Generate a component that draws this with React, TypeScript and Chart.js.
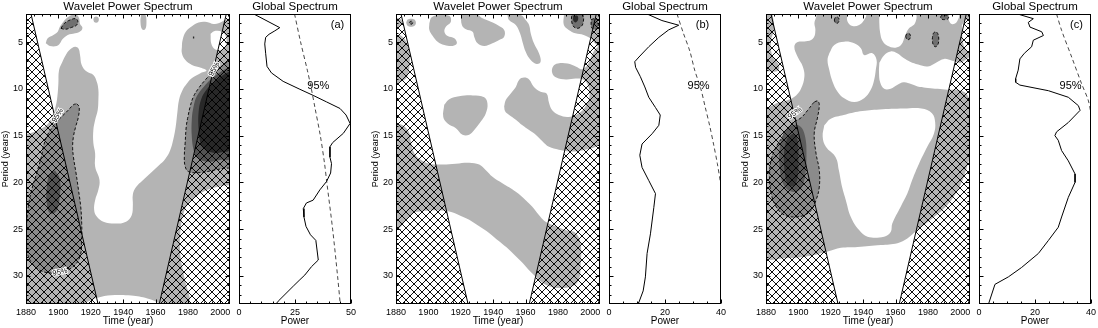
import React, { useEffect, useRef } from 'react';
import { Chart, registerables } from 'chart.js';

Chart.register(...registerables);

type P = [number, number];
type Layer = { pts: P[]; color: string; dash?: boolean; smooth?: number };
type Lbl = { x: number; y: number; text: string; rot?: number; size?: number; halo?: boolean };

const FONT = "'Liberation Sans', Arial, Helvetica, sans-serif";
Chart.defaults.font.family = FONT;
Chart.defaults.color = '#000';

// ---------- axes ----------
const yearTicks = [1880, 1900, 1920, 1940, 1960, 1980, 2000];
const periodTicks = [5, 10, 15, 20, 25, 30];
const powerTicksA = [0, 25, 50];
const powerTicksBC = [0, 20, 40];

// ---------- cone of influence ----------
const coiLeft: P[] = [[1883.1, 2], [1924.5, 33]];
const coiRight: P[] = [[2003.7, 2], [1962.3, 33]];
const hatchLeft: P[] = [[1880, 2], [1883.1, 2], [1924.5, 33], [1880, 33]];
const hatchRight: P[] = [[2003.7, 2], [2006, 2], [2006, 33], [1962.3, 33]];

// ---------- global spectra (period -> power) ----------
const gPeriodA = [2.0, 3.46, 3.8, 4.17, 4.5, 5.2, 6.2, 7.6, 8.3, 9.2, 10.05, 10.7, 11.4, 12.1, 12.8, 13.7, 14.75, 15.75, 16.2, 17.3, 18.0, 19.0, 19.9, 20.8, 21.9, 22.2, 22.8, 23.7, 24.7, 25.6, 26.2, 28.3, 29.0, 29.9, 30.4, 31.1, 32.7, 33.0];
const gPowerA = [6.6, 18.2, 16.0, 13.4, 11.9, 11.5, 11.9, 12.5, 14.5, 19.7, 27.2, 33.1, 39.1, 45.1, 47.8, 49.6, 46.6, 41.8, 40.6, 40.6, 41.3, 40.9, 39.1, 36.1, 33.1, 30.1, 28.7, 29.0, 29.9, 31.9, 34.3, 35.4, 32.4, 29.4, 27.2, 24.2, 17.5, 16.5];
const sigPeriodA = [2, 5, 8, 10, 12, 15, 18, 20, 25, 30, 33];
const sigPowerA = [24.8, 27.5, 30.5, 32.3, 33.9, 36.3, 38.2, 39.2, 41.8, 44.0, 45.2];

const gPeriodB = [2.0, 2.7, 3.2, 3.7, 4.5, 5.5, 6.6, 7.1, 7.7, 8.7, 9.8, 10.9, 12.0, 12.8, 13.9, 14.8, 15.9, 17.1, 18.4, 19.8, 21.2, 22.7, 25.5, 27.6, 30.1, 31.6, 32.8, 33.0];
const gPowerB = [13.6, 18.9, 24.9, 21.3, 17.8, 14.2, 10.7, 9.2, 9.5, 11.2, 12.8, 14.2, 16.6, 18.3, 17.8, 15.4, 11.8, 11.0, 11.8, 14.2, 16.6, 16.0, 14.8, 13.6, 13.0, 12.2, 10.7, 10.4];
const sigPeriodB = [2, 4, 6, 8, 10, 12, 14, 16, 18, 20, 21.3];
const sigPowerB = [24.3, 26.5, 28.9, 30.6, 32.8, 34.4, 36.0, 37.4, 38.7, 39.8, 40.4];

const gPeriodC = [2.0, 2.5, 2.9, 3.4, 3.9, 4.3, 4.8, 5.5, 6.2, 6.8, 8.0, 8.9, 9.3, 9.6, 10.2, 10.9, 11.8, 12.3, 13.6, 14.6, 15.0, 15.5, 16.6, 17.7, 19.1, 20.0, 21.6, 23.7, 24.8, 26.2, 27.6, 29.1, 30.1, 30.9, 33.0];
const gPowerC = [13.8, 19.4, 17.6, 18.2, 22.4, 23.0, 19.4, 18.8, 16.2, 14.6, 14.0, 13.1, 13.1, 14.6, 24.8, 31.9, 35.5, 36.1, 31.9, 27.7, 27.1, 28.3, 29.5, 31.9, 34.3, 34.3, 31.9, 29.5, 28.3, 24.8, 21.2, 15.2, 10.5, 5.7, 3.4];
const sigPeriodC = [2, 3.75, 6.6, 9.5, 11.2, 12.5, 13.9];
const sigPowerC = [27.7, 29.5, 33.1, 36.7, 39.0, 39.9, 40.5];

// ---------- panel (a) wavelet contours (year, period) ----------
const aGreyMain: P[] = [[1880, 14.83], [1883.5, 14.7], [1887.6, 14.4], [1892.8, 13.86], [1896.3, 12.97], [1898.3, 11.9], [1899.4, 10.8], [1900, 9.4], [1900.4, 8.0], [1902.5, 7.1], [1904.5, 6.4], [1907.2, 5.8], [1910.3, 5.5], [1912.4, 5.7], [1913.4, 6.4], [1914.4, 7.45], [1917.5, 8.16], [1921.6, 8.52], [1923.7, 9.23], [1924.7, 10.1], [1924.7, 11.2], [1924.3, 12.26], [1922.7, 13.33], [1921.6, 14.4], [1921.6, 15.8], [1922.7, 16.9], [1922.7, 18.3], [1925.4, 19.74], [1924.7, 20.8], [1922.7, 21.9], [1922.1, 22.95], [1923.7, 23.66], [1927.8, 24.2], [1935, 24.4], [1941.8, 24.2], [1945.3, 23.5], [1946, 22.4], [1946, 21.3], [1948, 20.5], [1952, 19.8], [1957, 19.0], [1962, 18.2], [1966, 17.5], [1969, 16.6], [1971, 15.4], [1972.5, 14], [1973.5, 12.5], [1974.5, 11.2], [1976.5, 10.2], [1979.5, 9.4], [1983, 8.8], [1988, 8.3], [1991.5, 8.05], [1988, 7.75], [1982.5, 7.45], [1978.3, 6.9], [1976.3, 6.2], [1976.3, 5.5], [1976.7, 4.8], [1978.7, 3.9], [1982.5, 3.3], [1986.6, 2.9], [1991.7, 2.85], [1995.9, 3.07], [1998.9, 3.0], [2003.1, 2.64], [2006, 2.57], [2006, 33], [1880, 33]];
const aWhiteLowerRight: P[] = [[2006, 20.3], [2000, 20.4], [1992, 20.8], [1986, 21.4], [1980, 22.3], [1977, 23.5], [1975.5, 25], [1975, 26.5], [1975.5, 28], [1977, 29.5], [1979, 31], [1981, 32.2], [1982, 33], [2006, 33]];
const aWhiteBottomArc: P[] = [[1915.5, 33], [1920, 32.6], [1926, 32.25], [1935, 32.05], [1945, 32.1], [1955, 32.4], [1961, 32.8], [1962.5, 33]];
const aWhiteNotch: P[] = [[1994, 4.1], [1997, 3.8], [2001, 3.9], [2003.5, 4.4], [2003.5, 5.3], [2001, 5.8], [1997, 5.8], [1994.5, 5.2]];
const aBlobTL: P[] = [[1892.2, 5.14], [1893.4, 4.6], [1896.9, 4.24], [1899.6, 3.89], [1901, 3.35], [1903.1, 2.82], [1905.8, 2.36], [1908.7, 2.07], [1911.3, 2.07], [1912.8, 2.46], [1913.4, 3.07], [1914.8, 3.43], [1914, 3.78], [1910.3, 4.07], [1905.8, 4.24], [1902.5, 4.71], [1901, 5.14], [1899, 5.42], [1894.8, 5.42]];
const aBlobTLDark: P[] = [[1901.6, 3.53], [1903.7, 3.0], [1907.2, 2.64], [1910.7, 2.5], [1912, 2.78], [1911.3, 3.18], [1908.2, 3.43], [1904.1, 3.64]];
const aBlobSmall: P[] = [[1921.6, 2.6], [1922.1, 2.35], [1923.3, 2.27], [1924.5, 2.35], [1925, 2.6], [1924.5, 2.85], [1923.3, 2.93], [1922.1, 2.85]];
const aSpike: P[] = [[1951.1, 2.07], [1953.6, 2.07], [1954.4, 2.82], [1953.6, 3.64], [1951.7, 3.64], [1950.7, 2.82]];
const aDot: P[] = [[1983.1, 4.4], [1983.9, 4.4], [1983.9, 4.62], [1983.1, 4.62]];
const aMedLeft: P[] = [[1911.3, 11.6], [1912.8, 11.9], [1912.4, 12.97], [1910.7, 14.04], [1909.3, 15.1], [1908.8, 16.2], [1909.3, 17.3], [1910.9, 19.0], [1912.4, 20.8], [1913.8, 22.6], [1914.4, 24.4], [1914.4, 26.2], [1913.4, 27.9], [1909.3, 29.0], [1903.1, 29.5], [1895.9, 29.7], [1888.7, 29.4], [1883.5, 28.6], [1880.8, 27.6], [1880.4, 26.9], [1880.4, 24.7], [1881.4, 22.6], [1883.5, 20.8], [1886.6, 19.0], [1889.5, 17.25], [1890.7, 16.2], [1892.8, 15.1], [1895.9, 14.2], [1899, 13.5], [1902.1, 12.97], [1906.2, 12.26], [1909.3, 11.7]];
const aDarkLeft: P[] = [[1897.9, 18.7], [1901, 19.7], [1900.6, 21.9], [1898.6, 23.1], [1894.8, 23.3], [1892.8, 22.2], [1892.8, 20.5], [1894.4, 19.2]];
const aMedRight: P[] = [[2006, 6.7], [2003.1, 7.3], [1998.9, 7.8], [1994.8, 8.34], [1990.7, 9.05], [1986.6, 9.94], [1983.5, 10.8], [1981.4, 11.9], [1980, 13], [1979, 14], [1978.3, 15.8], [1977.8, 17.2], [1978.3, 18.3], [1980.4, 18.85], [1987.6, 18.96], [1995.9, 18.7], [2002, 18.5], [2006, 18.3]];
const aDarkRight: P[] = [[2006, 7.6], [2001, 8.1], [1994.8, 8.9], [1989.7, 9.8], [1985.5, 10.8], [1983.5, 11.9], [1982.4, 13.3], [1982.4, 15.1], [1983.5, 16.5], [1985.5, 17.3], [1991.7, 17.8], [1999.9, 17.6], [2006, 17.4]];
const aDarkestRight: P[] = [[2006, 8.16], [2002, 8.5], [1996.9, 9.2], [1991.7, 10.05], [1988.2, 11.1], [1986.6, 12.5], [1986.6, 14.3], [1987.6, 15.7], [1990, 16.4], [1995, 16.8], [2000, 16.8], [2006, 16.4]];

// ---------- panel (b) ----------
const bCorner: P[] = [[1880, 2.4], [1882.5, 2.5], [1884, 2.9], [1882.5, 3.3], [1880, 3.4]];
const bBlobTL: P[] = [[1886.3, 2.93], [1887.2, 2.6], [1889.3, 2.5], [1891.4, 2.6], [1892.3, 2.93], [1891.4, 3.26], [1889.3, 3.36], [1887.2, 3.26]];
const bBlobTLRing: P[] = [[1888.2, 2.93], [1889.3, 2.75], [1890.4, 2.93], [1889.3, 3.1]];
const bLeftStrip: P[] = [[1880, 4.24], [1883.2, 4.32], [1886.3, 4.96], [1888.3, 6.2], [1888.3, 7.63], [1886.9, 8.7], [1884.2, 9.13], [1880, 9.34]];
const bBlobA: P[] = [[1900.6, 3.0], [1902, 2.36], [1906.8, 2.1], [1912.9, 2.2], [1913.9, 2.82], [1910.9, 3.35], [1909.9, 3.89], [1911.9, 4.35], [1916, 4.6], [1917.6, 5.14], [1915, 5.42], [1909.9, 5.31], [1905.7, 4.96], [1902.7, 4.35], [1900.6, 3.71]];
const bBlobB: P[] = [[1920.1, 2.1], [1930.4, 2.1], [1933.4, 2.46], [1938.6, 2.82], [1942.7, 3.18], [1946.8, 3.71], [1946.8, 4.42], [1943.7, 4.78], [1939.6, 5.14], [1934.5, 5.42], [1930.4, 5.14], [1928.3, 4.42], [1927.3, 3.89], [1923.2, 3.64], [1920.7, 3.18]];
const bBlobC: P[] = [[1948.8, 2.1], [1957, 2.1], [1960.1, 2.64], [1962.2, 3.18], [1963.2, 4.07], [1965.2, 5.14], [1968.3, 6.2], [1969.3, 7.1], [1966.9, 7.34], [1963.2, 6.92], [1960.1, 6.03], [1958.1, 4.96], [1956.6, 4.07], [1954, 3.18], [1949.8, 2.64]];
const bBlobE: P[] = [[1983.7, 2.1], [2006, 2.1], [2006, 5.6], [2003, 5.14], [2000, 4.6], [1995.9, 4.24], [1990.8, 4.07], [1986.7, 3.71], [1983.7, 3.18]];
const bSpotMed1: P[] = [[1988.5, 2.05], [1995, 2.05], [1995.5, 3], [1993, 3.5], [1990, 3.4], [1988.5, 2.8]];
const bSpotDark1: P[] = [[1989.5, 2.2], [1992, 2.2], [1992.5, 2.6], [1991, 2.9], [1989.5, 2.7]];
const bSpotMed2: P[] = [[2000.5, 2.6], [2003.5, 2.5], [2005, 3], [2004, 3.6], [2001, 3.5]];
const bRight: P[] = [[1946.8, 11.9], [1947.8, 11.2], [1950.9, 10.5], [1954, 9.8], [1956, 9.05], [1959.1, 8.8], [1962.2, 9.0], [1965.2, 9.8], [1969.3, 10.3], [1973, 10.5], [1974.5, 11.5], [1976.5, 12.3], [1980.6, 12.8], [1986.8, 13], [1993, 12.6], [1997, 11.9], [1999.5, 10.8], [1998.5, 9.6], [1995.5, 9.0], [1991, 8.9], [1985, 9.0], [1979, 8.8], [1976.5, 8.3], [1977, 7.6], [1980, 7.3], [1986, 7.3], [1991, 7.6], [1995, 7.9], [1998.5, 7.4], [2001, 6.4], [2003.5, 5.7], [2006, 5.5], [2006, 15.8], [2003.6, 16.2], [1997, 16.5], [1988.8, 16.7], [1980.6, 16.5], [1974.5, 16.2], [1970.4, 15.6], [1966.3, 14.9], [1962.2, 14.4], [1958.1, 13.9], [1954, 13.3], [1949.9, 12.8], [1947.4, 12.4]];
const bMid: P[] = [[1909.8, 11.7], [1912.9, 11.1], [1919, 10.8], [1927.3, 10.7], [1934.5, 10.9], [1936.5, 11.6], [1935.5, 12.6], [1932.4, 13.5], [1928.3, 14.4], [1925.2, 14.9], [1921.1, 14.9], [1917, 14.2], [1911.9, 13.7], [1909.2, 13.0]];
const bBand: P[] = [[1880, 13.7], [1884.2, 13.9], [1888.3, 14.75], [1889.3, 15.8], [1891.4, 16.9], [1895.5, 17.6], [1900.6, 18], [1908.8, 18.1], [1917, 18], [1925.2, 17.9], [1931.4, 18.1], [1935.5, 18.7], [1939.6, 19.4], [1945.7, 20.1], [1954, 21], [1960.1, 21.9], [1964.2, 22.6], [1969.3, 23.7], [1972.4, 24.2], [1978.6, 24.7], [1984.7, 25.1], [1990.9, 25.4], [1994, 26.5], [1994, 29], [1992.9, 30.4], [1988.8, 31.1], [1980.6, 31.3], [1974.5, 31.1], [1969.3, 30.6], [1966.3, 30.1], [1962.2, 29.4], [1958.1, 28.6], [1954, 27.9], [1949.9, 27.2], [1943.7, 26.3], [1937.5, 25.4], [1931.4, 24.7], [1925.2, 24], [1919.1, 23.5], [1912.9, 23.1], [1906.8, 23], [1900.6, 23], [1894.5, 23.1], [1890.4, 23.3], [1886.3, 24], [1883.2, 24.7], [1880, 25.1]];

// ---------- panel (c) ----------
const cBase: P[] = [[1880, 2], [2006, 2], [2006, 16.9], [2004.2, 18.3], [2001.1, 19.9], [1996, 21.5], [1989.9, 22.8], [1981.7, 24], [1973.5, 25.1], [1967.3, 26], [1961.2, 26.5], [1950.9, 26.7], [1936.5, 26.9], [1926.3, 27], [1918, 27.4], [1905.7, 27.9], [1891.4, 28.1], [1880, 27.9]];
const cW1: P[] = [[1884, 2], [1910.5, 2], [1909.9, 3.0], [1910.5, 3.7], [1909.5, 4.5], [1905.7, 4.9], [1899.6, 5.0], [1897.5, 5.5], [1899.6, 6.6], [1902.7, 7.6], [1903.7, 8.7], [1901.6, 10], [1898.6, 10.7], [1893.4, 11.2], [1887.3, 11.5], [1880, 11.9], [1880, 8.3], [1887, 8.1], [1888, 7.5], [1884, 6.5], [1883, 5], [1885, 3.5]];
const cW2: P[] = [[1919.1, 6.2], [1922.2, 5.31], [1928.3, 4.96], [1934.5, 5.14], [1938.6, 5.67], [1940.6, 6.38], [1945.7, 6.2], [1948.3, 6.92], [1947.8, 7.98], [1946.8, 9.05], [1944.7, 10.1], [1940.6, 11.0], [1934.5, 11.4], [1928.3, 11.0], [1924.2, 10.3], [1921.1, 9.23], [1919.1, 7.98], [1918, 6.92]];
const cW3: P[] = [[1950, 7.2], [1953, 6.4], [1957, 6.0], [1961, 6.2], [1965, 6.7], [1969, 7.1], [1974, 7.4], [1980, 7.6], [1985, 7.2], [1990, 6.8], [1995, 7.0], [2000, 7.2], [2004, 6.8], [2006, 6.6], [2006, 11.0], [2003, 10.4], [1998, 10.1], [1992, 10.1], [1986, 10.0], [1980, 9.9], [1975, 9.8], [1970, 9.5], [1965, 9.3], [1961, 9.6], [1957, 10.0], [1953, 10.0], [1950.5, 9.3], [1949.8, 8.2]];
const cW4: P[] = [[1930, 2], [1941.6, 2], [1940.6, 2.64], [1937.5, 3.18], [1933.4, 3.29], [1930.4, 2.82]];
const cW5: P[] = [[1950, 2], [1972, 2], [1972, 3.0], [1968, 3.6], [1966, 4.3], [1963.5, 5.3], [1960, 5.6], [1955, 5.4], [1952, 4.9], [1950.5, 4.0], [1950, 3]];
const cW6: P[] = [[2001, 3.2], [2003, 2.7], [2006, 2.6], [2006, 6.0], [2003, 5.7], [2001.5, 4.8]];
const cW8: P[] = [[1993, 2], [1999, 2], [1998, 2.8], [1995, 3.1], [1993, 2.7]];
const cTooth: P[] = [[1916, 13.9], [1915, 15.1], [1917, 16.2], [1923, 17.3], [1925, 18.7], [1927, 20.5], [1929.3, 21.9], [1932.4, 23.7], [1937.5, 25.1], [1942.7, 25.8], [1952.9, 25.8], [1957, 25.3], [1958, 24.4], [1963.2, 22.6], [1967.3, 21.2], [1970.4, 19.7], [1974.5, 18], [1979.6, 16.2], [1983.7, 14.8], [1984.5, 13.6], [1982.5, 12.6], [1976, 12.1], [1965, 12.1], [1950, 12.2], [1938, 12.4], [1928, 12.8], [1920, 13.2]];
const cMedLeft: P[] = [[1909.9, 11.4], [1911.9, 11.3], [1912.9, 11.7], [1911.9, 13], [1909.8, 14.75], [1910.9, 16.9], [1912.9, 18.7], [1912.9, 20.5], [1910.9, 21.9], [1907.8, 23], [1903.7, 23.5], [1898.6, 23.7], [1891.4, 23.5], [1886.3, 22.6], [1883.2, 21.2], [1882.2, 19.4], [1883.2, 17.6], [1886.3, 16.2], [1890.4, 15.1], [1894.5, 14.0], [1897.5, 13.5], [1901.6, 13.1], [1905.7, 12.3], [1908.8, 11.6]];
const cDark: P[] = [[1891, 14.6], [1896, 13.9], [1901, 14.0], [1904, 15], [1905, 17], [1904, 19.5], [1901, 20.8], [1896, 21], [1891, 20.3], [1888.5, 18.5], [1888.5, 16.3]];
const cDarkest: P[] = [[1893, 15.3], [1897, 14.8], [1899.5, 15.5], [1900, 17.5], [1899.5, 19.5], [1897, 20.4], [1893.5, 20.2], [1891.5, 18.8], [1891.3, 16.5]];
const cSpot1: P[] = [[1922.2, 2.65], [1922.7, 2.4], [1923.7, 2.3], [1924.7, 2.4], [1925.2, 2.65], [1924.7, 2.9], [1923.7, 3.0], [1922.7, 2.9]];
const cSpot2: P[] = [[1966.3, 4.4], [1966.8, 4.15], [1967.8, 4.05], [1968.8, 4.15], [1969.3, 4.4], [1968.8, 4.65], [1967.8, 4.75], [1966.8, 4.65]];
const cSpot3: P[] = [[1982.7, 4.7], [1983.3, 4.1], [1984.7, 3.9], [1986.1, 4.1], [1986.7, 4.7], [1986.1, 5.3], [1984.7, 5.5], [1983.3, 5.3]];
const cSpot4: P[] = [[1987.8, 2.35], [1988.5, 2.15], [1990.3, 2.1], [1992.1, 2.15], [1992.8, 2.35], [1992.1, 2.55], [1990.3, 2.6], [1988.5, 2.55]];

// ---------- colours ----------
const LIGHT = '#b4b4b4';
const MED = '#8b8b8b';
const MED2 = '#707070';
const DARK = '#535353';
const DARKEST = '#282828';
const WHITE = '#ffffff';

const layersA: Layer[] = [
  { pts: aGreyMain, color: LIGHT },
  { pts: aWhiteLowerRight, color: WHITE },
  { pts: aWhiteBottomArc, color: WHITE },
  { pts: aWhiteNotch, color: WHITE },
  { pts: aBlobTL, color: LIGHT },
  { pts: aBlobSmall, color: LIGHT },
  { pts: aSpike, color: LIGHT },
  { pts: aBlobTLDark, color: MED2, dash: true },
  { pts: aDot, color: DARKEST, smooth: 0 },
  { pts: aMedLeft, color: MED, dash: true },
  { pts: aDarkLeft, color: DARK },
  { pts: aMedRight, color: MED, dash: true },
  { pts: aDarkRight, color: DARK },
  { pts: aDarkestRight, color: DARKEST },
];
const layersB: Layer[] = [
  { pts: bCorner, color: LIGHT },
  { pts: bBlobTL, color: LIGHT },
  { pts: bLeftStrip, color: LIGHT },
  { pts: bBlobA, color: LIGHT },
  { pts: bBlobB, color: LIGHT },
  { pts: bBlobC, color: LIGHT },
  { pts: bBlobE, color: LIGHT },
  { pts: bRight, color: LIGHT },
  { pts: bMid, color: LIGHT },
  { pts: bBand, color: LIGHT },
  { pts: bBlobTLRing, color: MED2, dash: true },
  { pts: bSpotMed1, color: MED2, dash: true },
  { pts: bSpotDark1, color: DARKEST },
  { pts: bSpotMed2, color: MED2, dash: true },
];
const layersC: Layer[] = [
  { pts: cBase, color: LIGHT },
  { pts: cW1, color: WHITE },
  { pts: cW2, color: WHITE },
  { pts: cW3, color: WHITE },
  { pts: cW4, color: WHITE },
  { pts: cW5, color: WHITE },
  { pts: cW6, color: WHITE },
  { pts: cW8, color: WHITE },
  { pts: cTooth, color: WHITE },
  { pts: cMedLeft, color: MED, dash: true },
  { pts: cDark, color: '#5c5c5c' },
  { pts: cDarkest, color: '#383838' },
  { pts: cSpot1, color: MED2, dash: true },
  { pts: cSpot2, color: MED2, dash: true },
  { pts: cSpot3, color: MED2, dash: true },
  { pts: cSpot4, color: MED2, dash: true },
];

const labelsA: Lbl[] = [
  { x: 1899.6, y: 12.85, text: '95%', rot: -58, size: 7.5, halo: true },
  { x: 1996.3, y: 7.9, text: '95%', rot: -62, size: 7.5, halo: true },
  { x: 1901, y: 29.6, text: '95%', rot: -12, size: 7.5, halo: true },
];
const labelsB: Lbl[] = [];
const labelsC: Lbl[] = [{ x: 1897.8, y: 12.6, text: '95%', rot: -35, size: 7.5, halo: true }];

// ---------- plugins ----------
const framePlugin = {
  id: 'frame',
  afterDatasetsDraw(chart: any, _args: any, o: any) {
    const { ctx, chartArea: a } = chart;
    const xs = chart.scales.x;
    const ys = chart.scales.y;
    const L = Math.round(a.left) + 0.5;
    const R = Math.round(a.right) - 0.5;
    const T = Math.round(a.top) + 0.5;
    const B = Math.round(a.bottom) - 0.5;
    ctx.save();
    ctx.strokeStyle = '#000';
    ctx.lineWidth = 1;
    ctx.strokeRect(L, T, R - L, B - T);
    ctx.beginPath();
    for (let v = o.xFrom; v <= o.xTo + 1e-9; v += o.xStep) {
      const px = Math.round(xs.getPixelForValue(v)) + 0.5;
      const len = o.xMajor.includes(v) ? 4 : 2;
      ctx.moveTo(px, B);
      ctx.lineTo(px, B - len);
      if (o.mirror) {
        ctx.moveTo(px, T);
        ctx.lineTo(px, T + len);
      }
    }
    for (let v = o.yFrom; v <= o.yTo + 1e-9; v += o.yStep) {
      const py = Math.round(ys.getPixelForValue(v)) + 0.5;
      const len = o.yMajor.includes(v) ? 4 : 2;
      ctx.moveTo(L, py);
      ctx.lineTo(L + len, py);
      if (o.mirror) {
        ctx.moveTo(R, py);
        ctx.lineTo(R - len, py);
      }
    }
    ctx.stroke();
    ctx.restore();
  },
};

const textPlugin = {
  id: 'texts',
  afterDatasetsDraw(chart: any, _args: any, o: any) {
    const { ctx } = chart;
    const xs = chart.scales.x;
    const ys = chart.scales.y;
    ctx.save();
    (o.items || []).forEach((l: Lbl) => {
      const px = xs.getPixelForValue(l.x);
      const py = ys.getPixelForValue(l.y);
      ctx.save();
      ctx.translate(px, py);
      ctx.rotate(((l.rot || 0) * Math.PI) / 180);
      ctx.font = `${l.size || 11}px ${FONT}`;
      ctx.textAlign = 'center';
      ctx.textBaseline = 'middle';
      if (l.halo) {
        ctx.strokeStyle = '#fff';
        ctx.lineWidth = 2;
        ctx.strokeText(l.text, 0, 0);
      }
      ctx.fillStyle = '#000';
      ctx.fillText(l.text, 0, 0);
      ctx.restore();
    });
    ctx.restore();
  },
};

const toXY = (pts: P[]) => pts.map(([x, y]) => ({ x, y }));
const plainLabel = (v: any) => String(v);

function makeHatch(): CanvasPattern | string {
  const c = document.createElement('canvas');
  c.width = 8;
  c.height = 8;
  const g = c.getContext('2d');
  if (!g) return 'rgba(0,0,0,0)';
  g.strokeStyle = '#000';
  g.lineWidth = 0.95;
  g.beginPath();
  g.moveTo(-1, -1);
  g.lineTo(9, 9);
  g.moveTo(9, -1);
  g.lineTo(-1, 9);
  g.stroke();
  return g.createPattern(c, 'repeat') || 'rgba(0,0,0,0)';
}

const tickFont = { size: 9 };

function waveConfig(layers: Layer[], labels: Lbl[], hatch: any): any {
  const ds: any[] = layers.map((l) => ({
    data: toXY([...l.pts, l.pts[0]]),
    showLine: true,
    fill: 'shape',
    backgroundColor: l.color,
    borderColor: l.dash ? '#000' : 'rgba(0,0,0,0)',
    borderWidth: l.dash ? 0.9 : 0,
    borderDash: l.dash ? [3, 2] : [],
    tension: l.smooth ?? 0.4,
    pointRadius: 0,
    pointHoverRadius: 0,
  }));
  [hatchLeft, hatchRight].forEach((h) =>
    ds.push({
      data: toXY([...h, h[0]]),
      showLine: true,
      fill: 'shape',
      backgroundColor: hatch,
      borderColor: 'rgba(0,0,0,0)',
      borderWidth: 0,
      tension: 0,
      pointRadius: 0,
    })
  );
  [coiLeft, coiRight].forEach((c) =>
    ds.push({
      data: toXY(c),
      showLine: true,
      fill: false,
      borderColor: '#000',
      borderWidth: 1,
      tension: 0,
      pointRadius: 0,
    })
  );
  ds.forEach((d, i) => (d.order = ds.length - i));
  return {
    type: 'scatter',
    data: { datasets: ds },
    options: {
      responsive: false,
      animation: false,
      devicePixelRatio: 1,
      events: [],
      layout: { padding: { top: 0, right: 4, left: 0, bottom: 0 } },
      plugins: {
        legend: { display: false },
        tooltip: { enabled: false },
        title: {
          display: true,
          text: 'Wavelet Power Spectrum',
          fullSize: false,
          color: '#000',
          font: { size: 11.5, weight: 'normal', lineHeight: 1.13 },
          padding: { top: 0, bottom: 1 },
        },
        frame: { xFrom: 1880, xTo: 2005, xStep: 5, xMajor: yearTicks, yFrom: 3, yTo: 32, yStep: 1, yMajor: periodTicks, mirror: true },
        texts: { items: labels },
      },
      scales: {
        x: {
          type: 'linear',
          min: 1880,
          max: 2006,
          afterBuildTicks: (s: any) => { s.ticks = yearTicks.map((v) => ({ value: v })); },
          afterFit: (s: any) => { s.height = 24; },
          grid: { display: false, drawTicks: false },
          border: { display: false },
          ticks: { font: tickFont, color: '#000', padding: 3, maxRotation: 0, autoSkip: false, callback: plainLabel },
          title: { display: true, text: 'Time (year)', color: '#000', font: { size: 10 }, padding: { top: 0, bottom: 1 } },
        },
        y: {
          type: 'linear',
          min: 2,
          max: 33,
          reverse: true,
          afterBuildTicks: (s: any) => { s.ticks = periodTicks.map((v) => ({ value: v })); },
          afterFit: (s: any) => { s.width = 26; },
          grid: { display: false, drawTicks: false },
          border: { display: false },
          ticks: { font: tickFont, color: '#000', padding: 3, autoSkip: false, callback: plainLabel },
          title: { display: true, text: 'Period (years)', color: '#000', font: { size: 9 }, padding: { top: 0.5, bottom: 0 } },
        },
      },
    },
    plugins: [framePlugin, textPlugin],
  };
}

function globalConfig(per: number[], pow: number[], sigPer: number[], sigPow: number[], max: number, ticks: number[], labels: Lbl[]): any {
  return {
    type: 'scatter',
    data: {
      datasets: [
        {
          data: per.map((p, i) => ({ x: pow[i], y: p })),
          showLine: true,
          fill: false,
          borderColor: '#000',
          borderWidth: 1,
          tension: 0,
          pointRadius: 0,
        },
        {
          data: sigPer.map((p, i) => ({ x: sigPow[i], y: p })),
          showLine: true,
          fill: false,
          borderColor: '#333',
          borderWidth: 0.9,
          borderDash: [4, 3],
          tension: 0.3,
          pointRadius: 0,
        },
      ],
    },
    options: {
      responsive: false,
      animation: false,
      devicePixelRatio: 1,
      events: [],
      layout: { padding: { top: 0, right: 14, left: 10, bottom: 0 } },
      plugins: {
        legend: { display: false },
        tooltip: { enabled: false },
        title: {
          display: true,
          text: 'Global Spectrum',
          fullSize: false,
          color: '#000',
          font: { size: 11.5, weight: 'normal', lineHeight: 1.13 },
          padding: { top: 0, bottom: 1 },
        },
        frame: { xFrom: 0, xTo: max, xStep: 5, xMajor: ticks, yFrom: 3, yTo: 32, yStep: 1, yMajor: periodTicks, mirror: false },
        texts: { items: labels },
      },
      scales: {
        x: {
          type: 'linear',
          min: 0,
          max,
          afterBuildTicks: (s: any) => { s.ticks = ticks.map((v) => ({ value: v })); },
          afterFit: (s: any) => { s.height = 24; },
          grid: { display: false, drawTicks: false },
          border: { display: false },
          ticks: { font: tickFont, color: '#000', padding: 3, maxRotation: 0, autoSkip: false, callback: plainLabel },
          title: { display: true, text: 'Power', color: '#000', font: { size: 10 }, padding: { top: 0, bottom: 1 } },
        },
        y: {
          type: 'linear',
          min: 2,
          max: 33,
          reverse: true,
          display: false,
        },
      },
    },
    plugins: [framePlugin, textPlugin],
  };
}

function ChartBox({ left, width, build }: { left: number; width: number; build: (h: any) => any }) {
  const ref = useRef<HTMLCanvasElement | null>(null);
  useEffect(() => {
    if (!ref.current) return;
    const chart = new Chart(ref.current, build(makeHatch()));
    return () => chart.destroy();
  }, []);
  return (
    <canvas
      ref={ref}
      width={width}
      height={328}
      style={{ position: 'absolute', left, top: 0, width, height: 328 }}
    />
  );
}

export default function App() {
  return (
    <div style={{ position: 'absolute', left: 0, top: 0, width: 1098, height: 328, overflow: 'hidden', background: '#fff' }}>
      <ChartBox left={0} width={234} build={(h) => waveConfig(layersA, labelsA, h)} />
      <ChartBox left={229} width={136} build={() => globalConfig(gPeriodA, gPowerA, sigPeriodA, sigPowerA, 50, powerTicksA, [
        { x: 44, y: 3.2, text: '(a)', size: 11 },
        { x: 35.4, y: 9.7, text: '95%', size: 11 },
      ])} />
      <ChartBox left={370} width={234} build={(h) => waveConfig(layersB, labelsB, h)} />
      <ChartBox left={599} width={136} build={() => globalConfig(gPeriodB, gPowerB, sigPeriodB, sigPowerB, 40, powerTicksBC, [
        { x: 33.4, y: 3.2, text: '(b)', size: 11 },
        { x: 32, y: 9.7, text: '95%', size: 11 },
      ])} />
      <ChartBox left={740} width={234} build={(h) => waveConfig(layersC, labelsC, h)} />
      <ChartBox left={969} width={136} build={() => globalConfig(gPeriodC, gPowerC, sigPeriodC, sigPowerC, 40, powerTicksBC, [
        { x: 34.8, y: 3.2, text: '(c)', size: 11 },
        { x: 32.7, y: 9.7, text: '95%', size: 11 },
      ])} />
    </div>
  );
}
